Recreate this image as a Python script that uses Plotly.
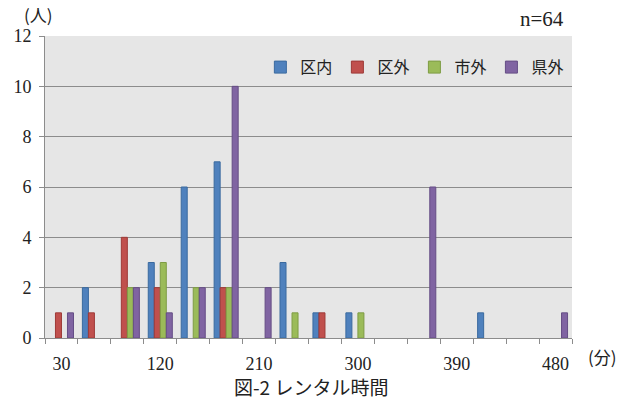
import plotly.graph_objects as go

# Rental duration categories (minutes)
minutes = [30, 60, 90, 120, 150, 180, 210, 240, 270, 300, 330, 360, 390, 420, 450, 480]

# Number of people per origin group
kunai = [0, 2, 0, 3, 6, 7, 0, 3, 1, 1, 0, 0, 0, 1, 0, 0]      # 区内
kugai = [1, 1, 4, 2, 0, 2, 0, 0, 1, 0, 0, 0, 0, 0, 0, 0]      # 区外
shigai = [0, 0, 2, 3, 2, 2, 0, 1, 0, 1, 0, 0, 0, 0, 0, 0]     # 市外
kengai = [1, 0, 2, 1, 2, 10, 2, 0, 0, 0, 0, 6, 0, 0, 0, 1]    # 県外

series = [
    ("区内", kunai, "#4F81BD", "#3A6A9F"),
    ("区外", kugai, "#C0504D", "#9E3A37"),
    ("市外", shigai, "#9BBB59", "#7E9C44"),
    ("県外", kengai, "#8064A2", "#654D85"),
]

x_ticks = [30, 120, 210, 300, 390, 480]
y_ticks = [0, 2, 4, 6, 8, 10, 12]

SERIF = "'Liberation Serif', 'DejaVu Serif', serif"
CJK = "'Noto Sans CJK JP', sans-serif"

fig = go.Figure()
for name, vals, color, edge in series:
    # empty cells are left out so no outline is drawn on the baseline
    fig.add_trace(go.Bar(
        x=minutes, y=[v if v else None for v in vals], name=name,
        marker=dict(color=color, line=dict(color=edge, width=1)),
    ))

fig.update_layout(
    width=621, height=405,
    margin=dict(l=45, r=49, t=36, b=67),
    paper_bgcolor="white",
    plot_bgcolor="#E6E6E6",
    font=dict(family=SERIF, size=18, color="#222"),
    barmode="group",
    bargap=0.27,
    bargroupgap=0,
    showlegend=True,
    legend=dict(
        orientation="h",
        x=0.995, xanchor="right",
        y=0.953, yanchor="top",
        bgcolor="rgba(0,0,0,0)",
        font=dict(family=CJK, size=16, color="#222"),
        itemwidth=30,
        traceorder="normal",
    ),
    xaxis=dict(
        range=[15, 495],
        tickmode="array", tickvals=x_ticks, ticktext=[str(v) for v in x_ticks],
        ticks="", showgrid=False, zeroline=False,
        showline=True, linecolor="#8C8C8C", linewidth=1,
        tickfont=dict(family=SERIF, size=18, color="#222"),
        ticklabelstandoff=9,
        minor=dict(tickmode="linear", tick0=15, dtick=30, ticks="outside",
                   ticklen=5, tickcolor="#8C8C8C", tickwidth=1, showgrid=False),
    ),
    yaxis=dict(
        range=[0, 12],
        tickmode="array", tickvals=y_ticks,
        ticks="outside", ticklen=5, tickcolor="#8C8C8C",
        showgrid=True, gridcolor="#8C8C8C", gridwidth=1,
        zeroline=False,
        showline=True, linecolor="#8C8C8C", linewidth=1,
        tickfont=dict(family=SERIF, size=18, color="#222"),
        ticklabelstandoff=4,
    ),
    annotations=[
        dict(text="(人)", x=38, y=15, showarrow=False,
             xanchor="center", yanchor="middle", font=dict(family=CJK, size=17, color="#222")),
        dict(text="n=64", x=566, y=19, showarrow=False,
             xanchor="right", yanchor="middle", font=dict(family=SERIF, size=21, color="#222")),
        dict(text="(分)", x=602, y=356, showarrow=False,
             xanchor="center", yanchor="middle", font=dict(family=CJK, size=17, color="#222")),
        dict(text="図-2 レンタル時間", x=311, y=386, showarrow=False,
             xanchor="center", yanchor="middle", font=dict(family=CJK, size=19, color="#222")),
    ],
)

# Place the free-standing labels in pixel coordinates of the page
for ann in fig.layout.annotations:
    ann.xref = "paper"
    ann.yref = "paper"
    px, py = ann.x, ann.y
    ann.x = (px - 45) / (621 - 45 - 49)
    ann.y = 1 - (py - 36) / (405 - 36 - 67)

fig.write_html("out.html")
